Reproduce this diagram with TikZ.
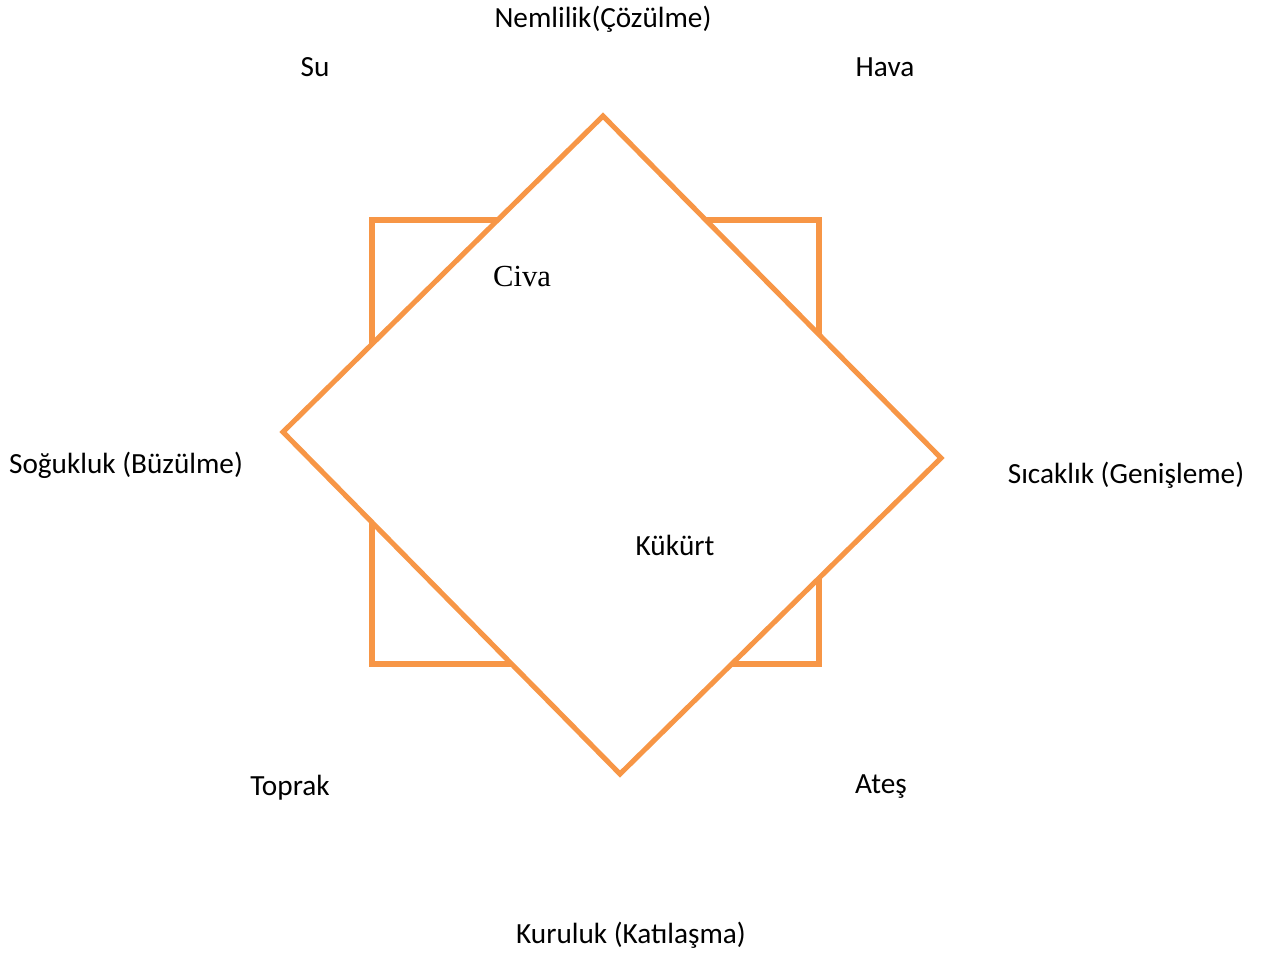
\documentclass[tikz,border=0pt]{standalone}
\usepackage{fontspec}
\setmainfont{Carlito}
\newfontfamily\timesfont{Liberation Serif}
\definecolor{accentorange}{RGB}{247,150,70}
\tikzset{
  frame/.style={draw=accentorange, line width=3.6pt, line join=miter},
  label/.style={font=\fontsize{20.8}{24}\selectfont, inner sep=0pt},
  metal/.style={font=\timesfont\fontsize{21.8}{24}\selectfont, inner sep=0pt}
}
\begin{document}
\begin{tikzpicture}[x=0.025cm, y=-0.025cm]
  \useasboundingbox (0,0) rectangle (1269,953);

  % square behind the diamond
  \draw[frame] (372,220) rectangle (819,664);

  % diamond corners
  \coordinate (top) at (603,116);
  \coordinate (right) at (941,458);
  \coordinate (bottom) at (620,774);
  \coordinate (left) at (283,432);
  \draw[frame, fill=white] (top) -- (right) -- (bottom) -- (left) -- cycle;

  % qualities and elements
  \node[label] (nem) at (603,19) {Nemlilik(Çözülme)};
  \node[label] (su) at (315,67) {Su};
  \node[label] (hava) at (885,67) {Hava};
  \node[label] (soguk) at (126,465) {Soğukluk (Büzülme)};
  \node[label] (sicak) at (1126,475) {Sıcaklık (Genişleme)};
  \node[label] (toprak) at (290,788) {Toprak};
  \node[label] (ates) at (881,787) {Ateş};
  \node[label] (kuru) at (631,935) {Kuruluk (Katılaşma)};

  % principles inside
  \node[metal] (civa) at (522,276) {Civa};
  \node[label] (kukurt) at (675,545) {Kükürt};
\end{tikzpicture}
\end{document}
